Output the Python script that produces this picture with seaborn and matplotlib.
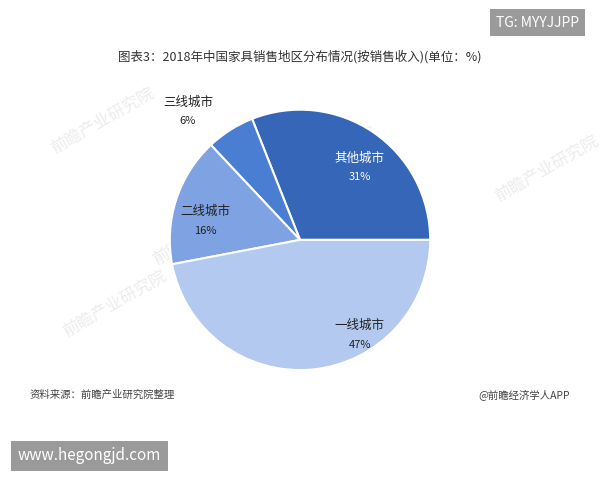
import matplotlib
matplotlib.use("Agg")
import matplotlib.pyplot as plt
import seaborn as sns

sns.set_theme(style="white")
plt.rcParams['font.family'] = ['Noto Sans CJK SC', 'DejaVu Sans']

labels = ["其他城市", "三线城市", "二线城市", "一线城市"]
values = [31, 6, 16, 47]
pct_labels = ["31%", "6%", "16%", "47%"]
colors = ["#3566b8", "#4a7ed2", "#7ea2e2", "#b4c9ef"]

fig = plt.figure(figsize=(6, 4.8), dpi=100)
for (x, y) in [(0.08, 0.68), (0.25, 0.45), (0.1, 0.3), (0.45, 0.6), (0.82, 0.58), (0.5, 0.28)]:
    fig.text(x, y, "前瞻产业研究院", fontsize=12, color="#ececec", rotation=30, zorder=0)
ax = fig.add_axes([0.283, 0.229, 0.434, 0.5425])
ax.set_zorder(2)
ax.patch.set_alpha(0)
wedges, _ = ax.pie(values, startangle=0, counterclock=True, colors=colors,
                   wedgeprops=dict(edgecolor="white", linewidth=1.5))
ax.set_xlim(-1.0, 1.0)
ax.set_ylim(-1.0, 1.0)
ax.set_aspect("equal")

pos = [(0.46, 0.56), (-0.86, 0.99), (-0.73, 0.15), (0.46, -0.73)]
for (x, y), lab, p, i in zip(pos, labels, pct_labels, range(4)):
    c = "white" if i == 0 else "#222222"
    ax.text(x, y + 0.07, lab, ha="center", va="center", fontsize=9, color=c)
    ax.text(x, y - 0.08, p, ha="center", va="center", fontsize=8, color=c)

fig.text(0.5, 0.882, "图表3：2018年中国家具销售地区分布情况(按销售收入)(单位：%)",
         ha="center", va="center", fontsize=9, color="#333333")
fig.text(0.05, 0.177, "资料来源：前瞻产业研究院整理", ha="left", va="center",
         fontsize=7.5, style="italic", color="#444444")
fig.text(0.95, 0.177, "@前瞻经济学人APP", ha="right", va="center",
         fontsize=7.5, color="#444444")
fig.text(0.965, 0.953, "TG: MYYJJPP", ha="right", va="center", fontsize=10,
         color="white", bbox=dict(boxstyle="square,pad=0.45", fc="#9a9a9a", ec="none"))
fig.text(0.03, 0.05, "www.hegongjd.com", ha="left", va="center", fontsize=11,
         color="white", bbox=dict(boxstyle="square,pad=0.45", fc="#9a9a9a", ec="none"))
fig.savefig("out.png", dpi=100)
